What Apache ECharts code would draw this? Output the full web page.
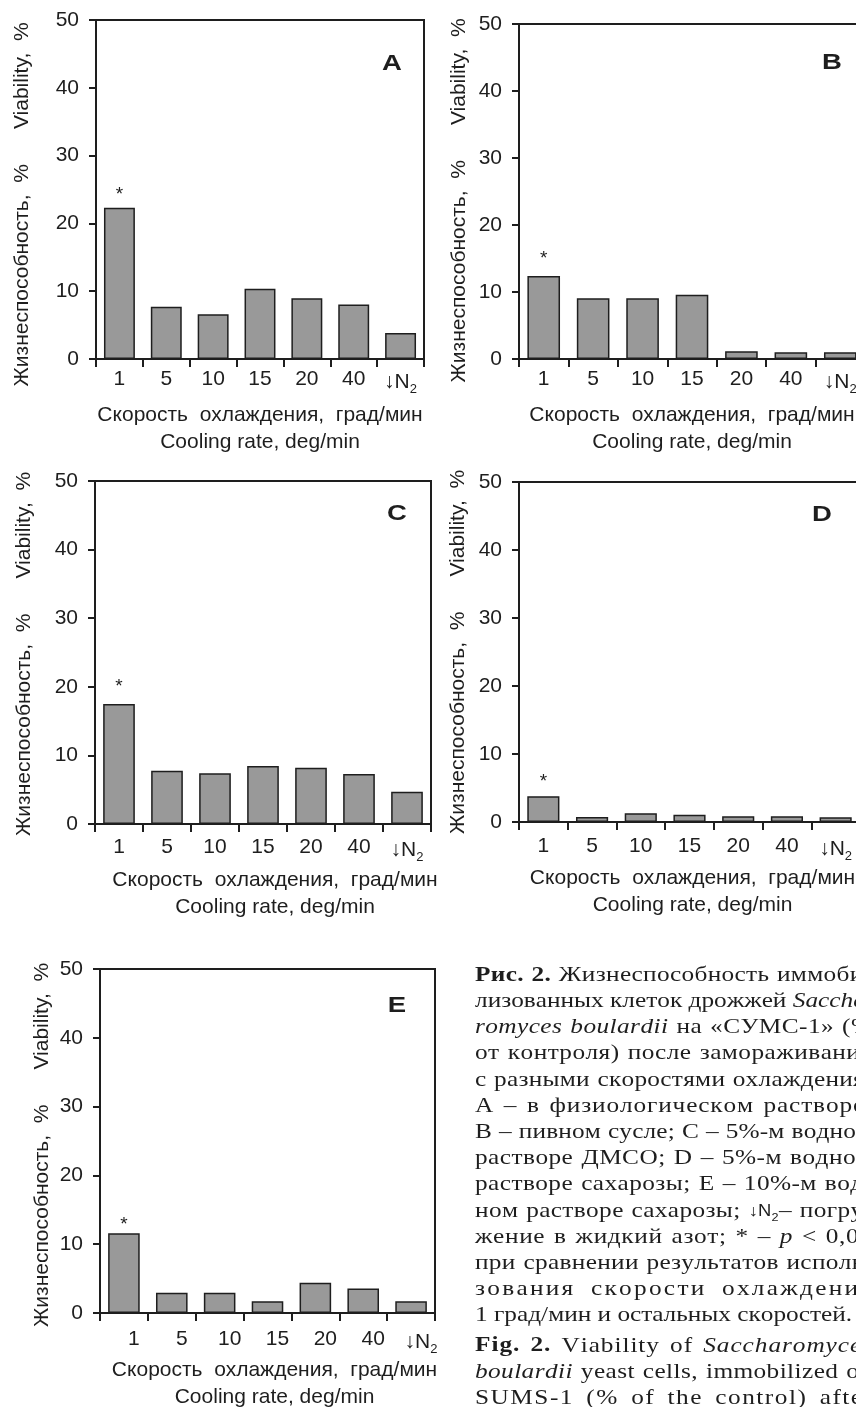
<!DOCTYPE html>
<html><head><meta charset="utf-8">
<script src="https://cdn.jsdelivr.net/npm/echarts@6/dist/echarts.min.js"></script>
<style>html,body{margin:0;padding:0;background:#fff}#c{width:856px;height:1407px}</style>
</head><body><div id="c"></div>
<script>
// ---- data ----
const categories = ['1', '5', '10', '15', '20', '40', '↓N2'];
const yTickMin = 0, yTickMax = 50, yTickStep = 10;
const valuesA = [22.3, 7.7, 6.6, 10.35, 8.95, 8.05, 3.85];
const valuesB = [12.4, 9.05, 9.05, 9.6, 1.15, 1.0, 1.0];
const valuesC = [17.5, 7.75, 7.4, 8.45, 8.2, 7.3, 4.7];
const valuesD = [3.8, 0.75, 1.3, 1.05, 0.85, 0.85, 0.7];
const valuesE = [11.6, 2.95, 2.95, 1.7, 4.4, 3.55, 1.7];
const significant = [true, false, false, false, false, false, false];
const panelLetters = ['A', 'B', 'C', 'D', 'E'];
const xTitleRu = 'Скорость  охлаждения,  град/мин';
const xTitleEn = 'Cooling rate, deg/min';
const yTitle = 'Жизнеспособность,  %      Viability,  %';
const captionLines = [
  '{b|Рис. 2.} Жизнеспособность иммоби-',
  'лизованных клеток дрожжей {i|Saccharo-}',
  '{i|romyces boulardii} на «СУМС-1» (%',
  'от контроля) после замораживания',
  'с разными скоростями охлаждения:',
  'А – в физиологическом растворе;',
  'В – пивном сусле; С – 5%-м водном',
  'растворе ДМСО; D – 5%-м водном',
  'растворе сахарозы; Е – 10%-м вод-',
  'ном растворе сахарозы; {s|↓N}{ss|2}{n|–} погру-',
  'жение в жидкий азот; * – {i|p} < 0,05',
  'при сравнении результатов исполь-',
  'зования скорости охлаждения',
  '1 град/мин и остальных скоростей.',
  '{b|Fig. 2.} Viability of {i|Saccharomyces}',
  '{i|boulardii} yeast cells, immobilized on',
  'SUMS-1 (% of the control) after'
];
const captionLastLines = [13];

// ---- layout ----
const panels = [
  {values: valuesA, grid: {left: 96, top: 20, width: 328, height: 339}, lblMargin: 10, lblPad: 0, namePad: 0, yGap: 63, yPad: 30, star: 4, letter: [392, 64]},
  {values: valuesB, grid: {left: 519, top: 24, width: 346, height: 335}, lblMargin: 10, lblPad: 0, namePad: 0, yGap: 49, yPad: 18, star: 8, letter: [832, 63]},
  {values: valuesC, grid: {left: 95, top: 481, width: 336, height: 343}, lblMargin: 13, lblPad: 0, namePad: 24, yGap: 60, yPad: 3, star: 8, letter: [397, 514]},
  {values: valuesD, grid: {left: 519, top: 482, width: 341, height: 340}, lblMargin: 14, lblPad: 0, namePad: 6, yGap: 50, yPad: 0, star: 5, letter: [822, 515]},
  {values: valuesE, grid: {left: 100, top: 969, width: 335, height: 344}, lblMargin: 16, lblPad: 20, namePad: 14, yGap: 47, yPad: 8, star: -1, letter: [397, 1006]}
];

const FONT = 'Liberation Sans, Arial, sans-serif';
const SERIF = 'Liberation Serif, Times New Roman, serif';
const INK = '#1e1e1e';

const grids = [], xAxes = [], yAxes = [], series = [], graphics = [];
panels.forEach((p, i) => {
  grids.push(Object.assign({show: true, borderColor: INK, borderWidth: 2, backgroundColor: 'transparent', outerBoundsMode: 'none', containLabel: false}, p.grid));
  xAxes.push({
    type: 'category', gridIndex: i, data: categories, boundaryGap: true,
    axisLine: {lineStyle: {color: INK, width: 2}},
    axisTick: {show: true, inside: false, length: 8, alignWithLabel: false, interval: 0, lineStyle: {color: INK, width: 2}},
    axisLabel: {
      interval: 0, margin: p.lblMargin, fontSize: 21, color: INK, fontFamily: FONT,
      padding: [0, 0, 0, p.lblPad],
      formatter: v => v === '↓N2' ? '{a|↓N}{s|2}' : v,
      rich: {
        a: {fontSize: 21, fontFamily: FONT, color: INK},
        s: {fontSize: 13, fontFamily: FONT, color: INK, padding: [14, 0, 0, 0]}
      }
    },
    name: xTitleRu + '\n' + xTitleEn, nameLocation: 'middle', nameGap: 43,
    nameTextStyle: {fontSize: 21, lineHeight: 27, color: INK, fontFamily: FONT, padding: [0, 0, 0, p.namePad]}
  });
  yAxes.push({
    type: 'value', gridIndex: i, min: yTickMin, max: yTickMax, interval: yTickStep,
    axisLine: {show: true, lineStyle: {color: INK, width: 2}},
    axisTick: {show: true, inside: false, length: 7, lineStyle: {color: INK, width: 2}},
    splitLine: {show: false},
    axisLabel: {margin: 17, fontSize: 21, color: INK, fontFamily: FONT},
    name: yTitle, nameLocation: 'middle', nameRotate: 90, nameGap: p.yGap,
    nameTextStyle: {fontSize: 21, lineHeight: 21, color: INK, fontFamily: FONT, padding: [0, p.yPad, 0, 0]}
  });
  series.push({
    type: 'bar', xAxisIndex: i, yAxisIndex: i, barWidth: '66%',
    itemStyle: {color: '#999999', borderColor: INK, borderWidth: 1.5},
    data: p.values.map((v, j) => ({
      value: v,
      label: {show: significant[j], position: 'top', formatter: '*', distance: p.star, fontSize: 19, color: INK, fontFamily: FONT}
    })),
    emphasis: {disabled: true}
  });
  graphics.push({
    type: 'text', x: p.letter[0], y: p.letter[1], scaleX: 1.25,
    style: {text: panelLetters[i], fontSize: 22, fontWeight: 'bold', fontFamily: FONT, fill: INK, align: 'center', verticalAlign: 'middle'}
  });
});

// ---- caption (justified, like the printed page) ----
const capX = 475, capY0 = 986, capLH = 26.2, capScale = 1.15, capRight = 872;
const capStyles = {
  base: {fontSize: 22, fontFamily: SERIF, fontWeight: 'normal', fontStyle: 'normal', dy: 0},
  n: {fontSize: 22, fontFamily: SERIF, fontWeight: 'normal', fontStyle: 'normal', dy: 0},
  b: {fontSize: 22, fontFamily: SERIF, fontWeight: 'bold', fontStyle: 'normal', dy: 0},
  i: {fontSize: 22, fontFamily: SERIF, fontWeight: 'normal', fontStyle: 'italic', dy: 0},
  s: {fontSize: 16, fontFamily: FONT, fontWeight: 'normal', fontStyle: 'normal', dy: -2},
  ss: {fontSize: 11, fontFamily: FONT, fontWeight: 'normal', fontStyle: 'normal', dy: 2}
};
const mctx = document.createElement('canvas').getContext('2d');
function cssFont(st) { return st.fontStyle + ' ' + st.fontWeight + ' ' + st.fontSize + 'px ' + st.fontFamily; }
const capChildren = [];
captionLines.forEach((line, k) => {
  const chars = [];
  const re = /\{(\w+)\|([^}]*)\}|([^{]+)/g;
  let m;
  while ((m = re.exec(line))) {
    const st = m[1] ? capStyles[m[1]] : capStyles.base;
    const txt = m[1] ? m[2] : m[3];
    mctx.font = cssFont(st);
    for (const ch of txt) chars.push({ch, st, w: mctx.measureText(ch).width});
  }
  const natural = chars.reduce((s, c) => s + c.w, 0);
  const target = (capRight - capX) / capScale;
  let weights = 0;
  chars.forEach((c, j) => { if (j < chars.length - 1) { c.wt = c.ch === ' ' ? 4 : 1; weights += c.wt; } else c.wt = 0; });
  const justify = captionLastLines.indexOf(k) < 0;
  const extra = justify ? Math.max(0, target - natural) / weights : 0;
  const y = capY0 + k * capLH + (k >= 14 ? 4 : 0);
  let cx = 0;
  chars.forEach(c => {
    if (c.ch !== ' ') {
      capChildren.push({
        type: 'text', x: capX + cx * capScale, y: y + c.st.dy, scaleX: capScale, silent: true,
        style: {text: c.ch, fontSize: c.st.fontSize, fontFamily: c.st.fontFamily, fontWeight: c.st.fontWeight, fontStyle: c.st.fontStyle, fill: INK, align: 'left', verticalAlign: 'bottom'}
      });
    }
    cx += c.w + c.wt * extra;
  });
});
graphics.push({type: 'group', children: capChildren});

const chart = echarts.init(document.getElementById('c'), null, {renderer: 'canvas'});
chart.setOption({
  animation: false,
  backgroundColor: '#ffffff',
  grid: grids, xAxis: xAxes, yAxis: yAxes, series: series, graphic: graphics
});
</script></body></html>
